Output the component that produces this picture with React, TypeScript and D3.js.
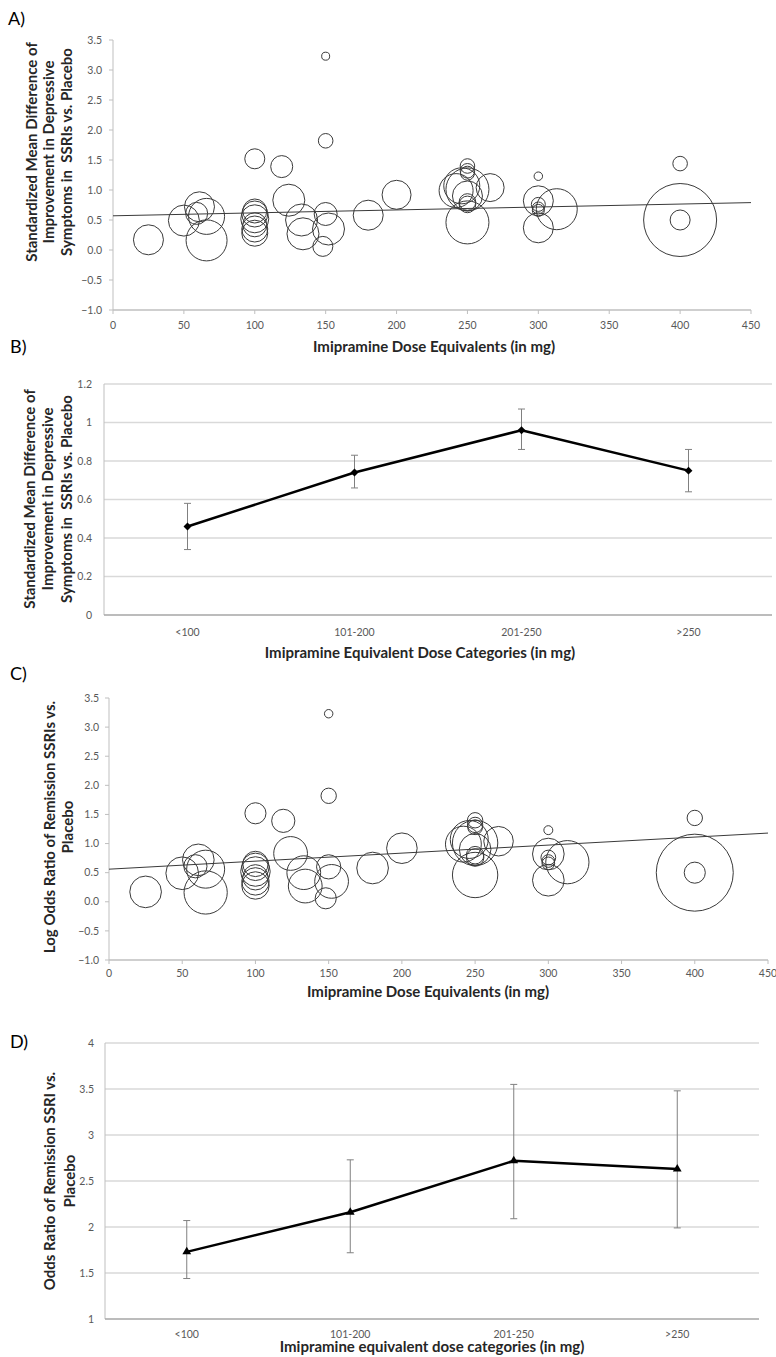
import React from "react";
import * as d3 from "d3";

// ---- Bubble data (panels A and C) ----
const doses = [25, 50, 59, 61, 66, 66, 100, 100, 100, 100, 100, 100, 100, 119, 124, 133, 134, 150, 150, 150, 152, 148, 180, 200, 250, 250, 250, 246, 242, 250, 266, 250, 250, 250, 250, 300, 300, 300, 300, 300, 300, 313, 400, 400, 400];
const effects = [0.17, 0.49, 0.61, 0.72, 0.56, 0.16, 1.52, 0.65, 0.6, 0.52, 0.42, 0.35, 0.28, 1.39, 0.83, 0.5, 0.27, 3.23, 1.82, 0.6, 0.35, 0.06, 0.58, 0.92, 1.4, 1.32, 1.28, 1.07, 0.99, 1.01, 1.04, 0.9, 0.8, 0.76, 0.46, 1.23, 0.82, 0.76, 0.7, 0.66, 0.37, 0.68, 1.44, 0.5, 0.5];
const weights = [225, 240, 121, 225, 324, 420, 100, 144, 169, 196, 144, 169, 169, 121, 256, 256, 256, 16, 53, 132, 256, 100, 225, 210, 53, 53, 49, 324, 289, 462, 196, 225, 69, 69, 462, 18, 225, 49, 36, 36, 225, 420, 53, 1332, 100];

// regression lines (value at dose 0 and dose 450)
const trendDoses = [0, 450];
const trendA = [0.57, 0.79];
const trendC = [0.56, 1.18];

// ---- Category data (panels B and D) ----
const categories = ["<100", "101-200", "201-250", ">250"];
const smdMean = [0.46, 0.74, 0.96, 0.75];
const smdLower = [0.34, 0.66, 0.86, 0.64];
const smdUpper = [0.58, 0.83, 1.07, 0.86];
const orMean = [1.73, 2.16, 2.72, 2.63];
const orLower = [1.44, 1.72, 2.09, 1.99];
const orUpper = [2.07, 2.73, 3.55, 3.48];

const scatterYTicks = [-1, -0.5, 0, 0.5, 1, 1.5, 2, 2.5, 3, 3.5];
const scatterXTicks = [0, 50, 100, 150, 200, 250, 300, 350, 400, 450];
const smdTicks = [0, 0.2, 0.4, 0.6, 0.8, 1, 1.2];
const orTicks = [1, 1.5, 2, 2.5, 3, 3.5, 4];

const FONT = "Lato, 'Open Sans', sans-serif";
const TICK = "#595959";
const AXIS = "#bfbfbf";
const GRID = "#d9d9d9";
const TITLE = "#262626";
const TITLE_SIZE = 15;
const TICK_SIZE = 10.5;

type ScatterProps = {
  top: number; bottom: number; left: number; right: number;
  trend: number[]; rMax: number; labelEnd: number;
  yTitle: string[]; yTitleX: number[]; yTitleCy: number;
  xTitleX: number; xTitleY: number; xTickY: number;
};

function Scatter(p: ScatterProps) {
  const x = d3.scaleLinear().domain([0, 450]).range([p.left, p.right]);
  const y = d3.scaleLinear().domain([-1, 3.5]).range([p.bottom, p.top]);
  const r = d3.scaleSqrt().domain([0, 1332]).range([0, p.rMax]);
  const fmt = d3.format(".1f");
  const line = d3.line<number>().x((d) => x(d)).y((_, i) => y(p.trend[i]));
  return (
    <g>
      <line x1={p.left} x2={p.left} y1={p.top} y2={p.bottom} stroke={AXIS} strokeWidth={1} />
      <line x1={p.left} x2={p.right} y1={p.bottom} y2={p.bottom} stroke={AXIS} strokeWidth={1.5} />
      {scatterYTicks.map((t) => (
        <g key={"y" + t}>
          <line x1={p.left - 4} x2={p.left} y1={y(t)} y2={y(t)} stroke={AXIS} />
          <text x={p.labelEnd} y={y(t)} dy="0.35em" textAnchor="end" fontSize={TICK_SIZE} fill={TICK} fontFamily={FONT}>{fmt(t)}</text>
        </g>
      ))}
      {scatterXTicks.map((t) => (
        <g key={"x" + t}>
          <line x1={x(t)} x2={x(t)} y1={p.bottom} y2={p.bottom + 4} stroke={AXIS} />
          <text x={x(t)} y={p.xTickY} dy="0.35em" textAnchor="middle" fontSize={TICK_SIZE} fill={TICK} fontFamily={FONT}>{t}</text>
        </g>
      ))}
      {doses.map((d, i) => (
        <circle key={i} cx={x(d)} cy={y(effects[i])} r={r(weights[i])} fill="none" stroke="#3a3a3a" strokeWidth={1} />
      ))}
      <path d={line(trendDoses) || ""} fill="none" stroke="#3a3a3a" strokeWidth={1} />
      <text x={p.xTitleX} y={p.xTitleY} dy="0.35em" textAnchor="middle" fontSize={TITLE_SIZE} fontWeight="bold" fill={TITLE} fontFamily={FONT}>
        Imipramine Dose Equivalents (in mg)
      </text>
      {p.yTitle.map((s, i) => (
        <text key={i} transform={`translate(${p.yTitleX[i]},${p.yTitleCy}) rotate(-90)`} dy="0.35em" textAnchor="middle" fontSize={TITLE_SIZE} fontWeight="bold" fill={TITLE} fontFamily={FONT} style={{ whiteSpace: "pre" }}>
          {s}
        </text>
      ))}
    </g>
  );
}

type CatProps = {
  top: number; bottom: number; left: number; right: number;
  domain: number[]; ticks: number[]; mean: number[]; lower: number[]; upper: number[];
  marker: "diamond" | "triangle"; labelEnd: number; catY: number;
  xTitle: string; xTitleX: number; xTitleY: number;
  yTitle: string[]; yTitleX: number[]; yTitleCy: number;
};

function CatChart(p: CatProps) {
  const x = d3.scaleBand().domain(categories).range([p.left, p.right]);
  const cx = (c: string) => (x(c) as number) + x.bandwidth() / 2;
  const y = d3.scaleLinear().domain(p.domain).range([p.bottom, p.top]);
  const line = d3.line<string>().x((c) => cx(c)).y((_, i) => y(p.mean[i]));
  const sym = d3.symbol().type(p.marker === "diamond" ? d3.symbolDiamond2 : d3.symbolTriangle2).size(p.marker === "diamond" ? 40 : 55);
  return (
    <g>
      {p.ticks.map((t, i) => (
        <g key={"t" + t}>
          {i > 0 && <line x1={p.left} x2={p.right} y1={y(t)} y2={y(t)} stroke={GRID} strokeWidth={1.5} />}
          <text x={p.labelEnd} y={y(t)} dy="0.35em" textAnchor="end" fontSize={TICK_SIZE} fill={TICK} fontFamily={FONT}>{t}</text>
        </g>
      ))}
      <line x1={p.left} x2={p.left} y1={p.top} y2={p.bottom} stroke={AXIS} strokeWidth={1} />
      <line x1={p.left} x2={p.right} y1={p.bottom} y2={p.bottom} stroke="#a6a6a6" strokeWidth={1.5} />
      {categories.map((c) => (
        <text key={c} x={cx(c)} y={p.catY} dy="0.35em" textAnchor="middle" fontSize={TICK_SIZE} fill={TICK} fontFamily={FONT}>{c}</text>
      ))}
      {categories.map((c, i) => (
        <g key={"e" + c} stroke="#808080" strokeWidth={1}>
          <line x1={cx(c)} x2={cx(c)} y1={y(p.lower[i])} y2={y(p.upper[i])} />
          <line x1={cx(c) - 3.5} x2={cx(c) + 3.5} y1={y(p.lower[i])} y2={y(p.lower[i])} />
          <line x1={cx(c) - 3.5} x2={cx(c) + 3.5} y1={y(p.upper[i])} y2={y(p.upper[i])} />
        </g>
      ))}
      <path d={line(categories) || ""} fill="none" stroke="#000" strokeWidth={2.5} strokeLinejoin="round" />
      {categories.map((c, i) => (
        <path key={"m" + c} d={sym() || ""} transform={`translate(${cx(c)},${y(p.mean[i])})`} fill="#000" />
      ))}
      <text x={p.xTitleX} y={p.xTitleY} dy="0.35em" textAnchor="middle" fontSize={TITLE_SIZE} fontWeight="bold" fill={TITLE} fontFamily={FONT}>
        {p.xTitle}
      </text>
      {p.yTitle.map((s, i) => (
        <text key={i} transform={`translate(${p.yTitleX[i]},${p.yTitleCy}) rotate(-90)`} dy="0.35em" textAnchor="middle" fontSize={TITLE_SIZE} fontWeight="bold" fill={TITLE} fontFamily={FONT} style={{ whiteSpace: "pre" }}>
          {s}
        </text>
      ))}
    </g>
  );
}

export default function App() {
  const letter = (t: string, x: number, y: number) => (
    <text x={x} y={y} fontSize={18} fill="#000" fontFamily={FONT}>{t}</text>
  );
  return (
    <svg width={776} height={1357} style={{ position: "absolute", left: 0, top: 0, background: "#fff" }}>
      <rect width={776} height={1357} fill="#fff" />
      {letter("A)", 8, 25)}
      <Scatter top={40} bottom={310} left={113} right={751} trend={trendA} rMax={36.5} labelEnd={102}
        yTitle={["Standardized Mean Difference of", "Improvement in Depressive", "Symptoms in  SSRIs vs. Placebo"]}
        yTitleX={[32, 49, 67]} yTitleCy={152} xTitleX={434} xTitleY={347} xTickY={325} />

      {letter("B)", 10, 353)}
      <CatChart top={384} bottom={615} left={104} right={772} domain={[0, 1.2]} ticks={smdTicks}
        mean={smdMean} lower={smdLower} upper={smdUpper} marker="diamond" labelEnd={92} catY={632}
        xTitle="Imipramine Equivalent Dose Categories (in mg)" xTitleX={420} xTitleY={653}
        yTitle={["Standardized Mean Difference of", "Improvement in Depressive", "Symptoms in  SSRIs vs. Placebo"]}
        yTitleX={[30, 48, 67]} yTitleCy={499} />

      {letter("C)", 10, 680)}
      <Scatter top={698} bottom={960} left={109} right={768} trend={trendC} rMax={38.5} labelEnd={99}
        yTitle={["Log Odds Ratio of Remission SSRIs vs.", "Placebo"]}
        yTitleX={[50, 68]} yTitleCy={827} xTitleX={428} xTitleY={992} xTickY={973} />

      {letter("D)", 10, 1048)}
      <CatChart top={1043} bottom={1319} left={105} right={759} domain={[1, 4]} ticks={orTicks}
        mean={orMean} lower={orLower} upper={orUpper} marker="triangle" labelEnd={94} catY={1334}
        xTitle="Imipramine equivalent dose categories (in mg)" xTitleX={432} xTitleY={1347}
        yTitle={["Odds Ratio of Remission SSRI vs.", "Placebo"]}
        yTitleX={[50, 70]} yTitleCy={1181} />
    </svg>
  );
}
